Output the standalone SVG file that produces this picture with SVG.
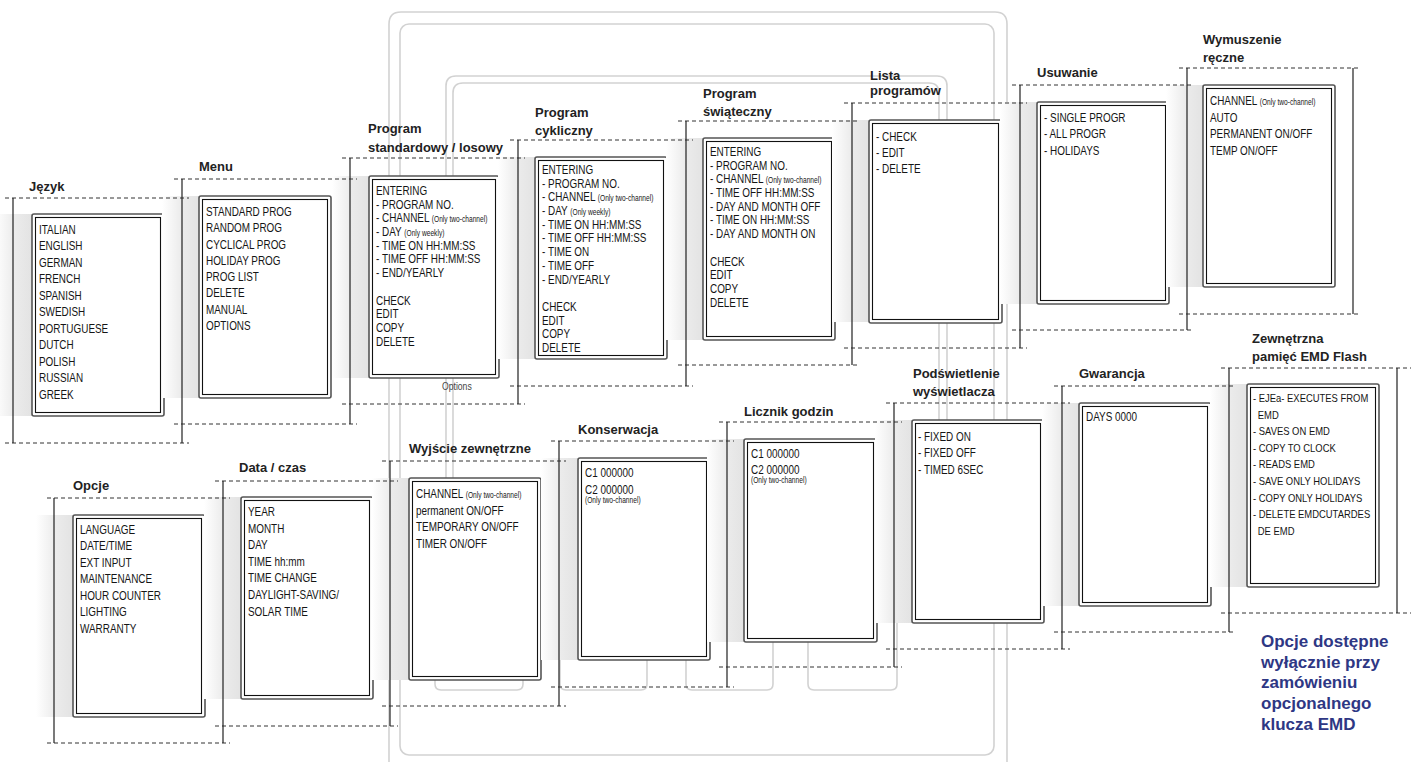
<svg xmlns="http://www.w3.org/2000/svg" width="1411" height="762" viewBox="0 0 1411 762">
<defs>
<linearGradient id="bandg" x1="0" y1="0" x2="1" y2="0">
<stop offset="0" stop-color="#ffffff"/>
<stop offset="0.5" stop-color="#ececec"/>
<stop offset="1" stop-color="#e3e3e3"/>
</linearGradient>
<style>
.c{fill:none;stroke:#d2d2d2;stroke-width:1.6}
.band{fill:url(#bandg)}
.bo{fill:#fff;stroke:#555;stroke-width:1.6}
.bi{fill:none;stroke:#111;stroke-width:1.1}
.t{font-family:"Liberation Sans",Arial,sans-serif;font-size:12.4px;fill:#151515}
.z{font-size:11.8px}
.s{font-size:8.3px}
.h{font-family:"Liberation Sans",Arial,sans-serif;font-weight:bold;font-size:13px;fill:#222}
.d{stroke:#333;stroke-width:1;stroke-dasharray:4 3;fill:none}
.v{stroke:#222;stroke-width:1.2;fill:none}
.blue{font-family:"Liberation Sans",Arial,sans-serif;font-weight:bold;font-size:17px;fill:#2e3784}
.opt{font-family:"Liberation Sans",Arial,sans-serif;font-size:10.8px;fill:#444}
</style>
</defs>
<rect width="1411" height="762" fill="#fff"/>

<g id="connectors">
<path class="c" d="M389 770V24Q389 12 401 12H995Q1007 12 1007 24V770"/>
<rect class="c" x="400" y="24" width="594" height="731" rx="9"/>
<path class="c" d="M446 500V86Q446 76 456 76H937Q947 76 947 86V440"/>
<path class="c" d="M453 500V93Q453 83 463 83H929Q939 83 939 93V440"/>
<path class="c" d="M435 600V684Q435 690 441 690H517Q523 690 523 684V600"/>
<path class="c" d="M560 600V684Q560 690 566 690H641Q647 690 647 684V600"/>
<path class="c" d="M686 600V684Q686 690 692 690H767Q773 690 773 684V600"/>
<path class="c" d="M808 600V684Q808 690 814 690H891Q897 690 897 684V600"/>
</g>

<g id="jezyk">
<rect class="band" x="-5" y="214" width="37" height="202"/>
<rect class="bo" x="32" y="214" width="132" height="202" rx="2"/>
<rect class="bi" x="35.5" y="217.5" width="125" height="195"/>
<text class="h" x="29" y="191">Język</text>
<g transform="translate(39 0) scale(0.8 1)"><text class="t"><tspan x="0" y="234">ITALIAN</tspan><tspan x="0" dy="16.5">ENGLISH</tspan><tspan x="0" dy="16.5">GERMAN</tspan><tspan x="0" dy="16.5">FRENCH</tspan><tspan x="0" dy="16.5">SPANISH</tspan><tspan x="0" dy="16.5">SWEDISH</tspan><tspan x="0" dy="16.5">PORTUGUESE</tspan><tspan x="0" dy="16.5">DUTCH</tspan><tspan x="0" dy="16.5">POLISH</tspan><tspan x="0" dy="16.5">RUSSIAN</tspan><tspan x="0" dy="16.5">GREEK</tspan></text></g>
</g>

<g id="menu">
<rect class="band" x="162" y="196" width="37" height="202"/>
<rect class="bo" x="199" y="196" width="132" height="202" rx="2"/>
<rect class="bi" x="202.5" y="199.5" width="125" height="195"/>
<text class="h" x="199" y="171">Menu</text>
<g transform="translate(206 0) scale(0.8 1)"><text class="t"><tspan x="0" y="216">STANDARD PROG</tspan><tspan x="0" dy="16.3">RANDOM PROG</tspan><tspan x="0" dy="16.3">CYCLICAL PROG</tspan><tspan x="0" dy="16.3">HOLIDAY PROG</tspan><tspan x="0" dy="16.3">PROG LIST</tspan><tspan x="0" dy="16.3">DELETE</tspan><tspan x="0" dy="16.3">MANUAL</tspan><tspan x="0" dy="16.3">OPTIONS</tspan></text></g>
</g>

<g id="program-standardowy">
<rect class="band" x="332" y="176" width="37" height="202"/>
<rect class="bo" x="369" y="176" width="130" height="202" rx="2"/>
<rect class="bi" x="372.5" y="179.5" width="123" height="195"/>
<text class="h"><tspan x="368" y="133">Program</tspan><tspan x="368" y="151.5">standardowy / losowy</tspan></text>
<g transform="translate(376 0) scale(0.8 1)"><text class="t"><tspan x="0" y="195">ENTERING</tspan><tspan x="0" dy="13.7">- PROGRAM NO.</tspan><tspan x="0" dy="13.7">- CHANNEL <tspan class="s">(Only two-channel)</tspan></tspan><tspan x="0" dy="13.7">- DAY <tspan class="s">(Only weekly)</tspan></tspan><tspan x="0" dy="13.7">- TIME ON HH:MM:SS</tspan><tspan x="0" dy="13.7">- TIME OFF HH:MM:SS</tspan><tspan x="0" dy="13.7">- END/YEARLY</tspan><tspan x="0" dy="27.4">CHECK</tspan><tspan x="0" dy="13.7">EDIT</tspan><tspan x="0" dy="13.7">COPY</tspan><tspan x="0" dy="13.7">DELETE</tspan></text></g>
<g transform="translate(442 0) scale(0.8 1)"><text class="opt" x="0" y="390">Options</text></g>
</g>

<g id="program-cykliczny">
<rect class="band" x="498" y="157" width="37" height="202"/>
<rect class="bo" x="535" y="157" width="132" height="202" rx="2"/>
<rect class="bi" x="538.5" y="160.5" width="125" height="195"/>
<text class="h"><tspan x="535" y="116.5">Program</tspan><tspan x="535" y="134.5">cykliczny</tspan></text>
<g transform="translate(542 0) scale(0.8 1)"><text class="t"><tspan x="0" y="174">ENTERING</tspan><tspan x="0" dy="13.7">- PROGRAM NO.</tspan><tspan x="0" dy="13.7">- CHANNEL <tspan class="s">(Only two-channel)</tspan></tspan><tspan x="0" dy="13.7">- DAY <tspan class="s">(Only weekly)</tspan></tspan><tspan x="0" dy="13.7">- TIME ON HH:MM:SS</tspan><tspan x="0" dy="13.7">- TIME OFF HH:MM:SS</tspan><tspan x="0" dy="13.7">- TIME ON</tspan><tspan x="0" dy="13.7">- TIME OFF</tspan><tspan x="0" dy="13.7">- END/YEARLY</tspan><tspan x="0" dy="27.4">CHECK</tspan><tspan x="0" dy="13.7">EDIT</tspan><tspan x="0" dy="13.7">COPY</tspan><tspan x="0" dy="13.7">DELETE</tspan></text></g>
</g>

<g id="program-swiateczny">
<rect class="band" x="666" y="138" width="37" height="202"/>
<rect class="bo" x="703" y="138" width="132" height="202" rx="2"/>
<rect class="bi" x="706.5" y="141.5" width="125" height="195"/>
<text class="h"><tspan x="703" y="98">Program</tspan><tspan x="703" y="116">świąteczny</tspan></text>
<g transform="translate(710 0) scale(0.8 1)"><text class="t"><tspan x="0" y="156">ENTERING</tspan><tspan x="0" dy="13.7">- PROGRAM NO.</tspan><tspan x="0" dy="13.7">- CHANNEL <tspan class="s">(Only two-channel)</tspan></tspan><tspan x="0" dy="13.7">- TIME OFF HH:MM:SS</tspan><tspan x="0" dy="13.7">- DAY AND MONTH OFF</tspan><tspan x="0" dy="13.7">- TIME ON HH:MM:SS</tspan><tspan x="0" dy="13.7">- DAY AND MONTH ON</tspan><tspan x="0" dy="27.4">CHECK</tspan><tspan x="0" dy="13.7">EDIT</tspan><tspan x="0" dy="13.7">COPY</tspan><tspan x="0" dy="13.7">DELETE</tspan></text></g>
</g>

<g id="lista-programow">
<rect class="band" x="832" y="120" width="37" height="202"/>
<rect class="bo" x="869" y="120" width="133" height="203" rx="2"/>
<rect class="bi" x="872.5" y="123.5" width="126" height="196"/>
<text class="h"><tspan x="870" y="80">Lista</tspan><tspan x="870" y="95">programów</tspan></text>
<g transform="translate(876 0) scale(0.8 1)"><text class="t"><tspan x="0" y="141">- CHECK</tspan><tspan x="0" dy="16">- EDIT</tspan><tspan x="0" dy="16">- DELETE</tspan></text></g>
</g>

<g id="usuwanie">
<rect class="band" x="1000" y="102" width="37" height="202"/>
<rect class="bo" x="1037" y="102" width="132" height="202" rx="2"/>
<rect class="bi" x="1040.5" y="105.5" width="125" height="195"/>
<text class="h" x="1037" y="77">Usuwanie</text>
<g transform="translate(1044 0) scale(0.8 1)"><text class="t"><tspan x="0" y="122">- SINGLE PROGR</tspan><tspan x="0" dy="16.3">- ALL PROGR</tspan><tspan x="0" dy="16.3">- HOLIDAYS</tspan></text></g>
</g>

<g id="wymuszenie-reczne">
<rect class="band" x="1166" y="85" width="37" height="202"/>
<rect class="bo" x="1203" y="85" width="132" height="202" rx="2"/>
<rect class="bi" x="1206.5" y="88.5" width="125" height="195"/>
<text class="h"><tspan x="1203" y="44">Wymuszenie</tspan><tspan x="1203" y="62">ręczne</tspan></text>
<g transform="translate(1210 0) scale(0.8 1)"><text class="t"><tspan x="0" y="105">CHANNEL <tspan class="s">(Only two-channel)</tspan></tspan><tspan x="0" dy="16.6">AUTO</tspan><tspan x="0" dy="16.6">PERMANENT ON/OFF</tspan><tspan x="0" dy="16.6">TEMP ON/OFF</tspan></text></g>
</g>

<g id="opcje">
<rect class="band" x="36" y="515" width="37" height="202"/>
<rect class="bo" x="73" y="515" width="132" height="202" rx="2"/>
<rect class="bi" x="76.5" y="518.5" width="125" height="195"/>
<text class="h" x="73" y="490">Opcje</text>
<g transform="translate(80 0) scale(0.8 1)"><text class="t"><tspan x="0" y="534">LANGUAGE</tspan><tspan x="0" dy="16.5">DATE/TIME</tspan><tspan x="0" dy="16.5">EXT INPUT</tspan><tspan x="0" dy="16.5">MAINTENANCE</tspan><tspan x="0" dy="16.5">HOUR COUNTER</tspan><tspan x="0" dy="16.5">LIGHTING</tspan><tspan x="0" dy="16.5">WARRANTY</tspan></text></g>
</g>

<g id="data-czas">
<rect class="band" x="204" y="497" width="37" height="202"/>
<rect class="bo" x="241" y="497" width="132" height="202" rx="2"/>
<rect class="bi" x="244.5" y="500.5" width="125" height="195"/>
<text class="h" x="239" y="472">Data / czas</text>
<g transform="translate(248 0) scale(0.8 1)"><text class="t"><tspan x="0" y="516">YEAR</tspan><tspan x="0" dy="16.6">MONTH</tspan><tspan x="0" dy="16.6">DAY</tspan><tspan x="0" dy="16.6">TIME hh:mm</tspan><tspan x="0" dy="16.6">TIME CHANGE</tspan><tspan x="0" dy="16.6">DAYLIGHT-SAVING/</tspan><tspan x="0" dy="16.6">SOLAR TIME</tspan></text></g>
</g>

<g id="wyjscie-zewnetrzne">
<rect class="band" x="372" y="478" width="37" height="202"/>
<rect class="bo" x="409" y="478" width="132" height="202" rx="2"/>
<rect class="bi" x="412.5" y="481.5" width="125" height="195"/>
<text class="h" x="409" y="453">Wyjście zewnętrzne</text>
<g transform="translate(416 0) scale(0.8 1)"><text class="t"><tspan x="0" y="498">CHANNEL <tspan class="s">(Only two-channel)</tspan></tspan><tspan x="0" dy="16.6">permanent ON/OFF</tspan><tspan x="0" dy="16.6">TEMPORARY ON/OFF</tspan><tspan x="0" dy="16.6">TIMER ON/OFF</tspan></text></g>
</g>

<g id="konserwacja">
<rect class="band" x="541" y="458" width="37" height="202"/>
<rect class="bo" x="578" y="458" width="132" height="202" rx="2"/>
<rect class="bi" x="581.5" y="461.5" width="125" height="195"/>
<text class="h" x="578" y="434">Konserwacja</text>
<g transform="translate(585 0) scale(0.8 1)"><text class="t"><tspan x="0" y="477">C1 000000</tspan><tspan x="0" dy="17">C2 000000</tspan><tspan x="0" dy="9.5" class="s">(Only two-channel)</tspan></text></g>
</g>

<g id="licznik-godzin">
<rect class="band" x="707" y="439" width="37" height="203"/>
<rect class="bo" x="744" y="439" width="133" height="203" rx="2"/>
<rect class="bi" x="747.5" y="442.5" width="126" height="196"/>
<text class="h" x="744" y="416">Licznik godzin</text>
<g transform="translate(751 0) scale(0.8 1)"><text class="t"><tspan x="0" y="458.5">C1 000000</tspan><tspan x="0" dy="16">C2 000000</tspan><tspan x="0" dy="9" class="s">(Only two-channel)</tspan></text></g>
</g>

<g id="podswietlenie">
<rect class="band" x="875" y="420" width="37" height="203"/>
<rect class="bo" x="912" y="420" width="132" height="203" rx="2"/>
<rect class="bi" x="915.5" y="423.5" width="125" height="196"/>
<text class="h"><tspan x="913" y="378">Podświetlenie</tspan><tspan x="913" y="396">wyświetlacza</tspan></text>
<g transform="translate(918 0) scale(0.8 1)"><text class="t"><tspan x="0" y="441">- FIXED ON</tspan><tspan x="0" dy="16.5">- FIXED OFF</tspan><tspan x="0" dy="16.5">- TIMED 6SEC</tspan></text></g>
</g>

<g id="gwarancja">
<rect class="band" x="1042" y="403" width="37" height="203"/>
<rect class="bo" x="1079" y="403" width="132" height="203" rx="2"/>
<rect class="bi" x="1082.5" y="406.5" width="125" height="196"/>
<text class="h" x="1079" y="378">Gwarancja</text>
<g transform="translate(1086 0) scale(0.8 1)"><text class="t" x="0" y="421">DAYS 0000</text></g>
</g>

<g id="zewnetrzna-pamiec">
<rect class="band" x="1210" y="384" width="37" height="203"/>
<rect class="bo" x="1247" y="384" width="132" height="203" rx="2"/>
<rect class="bi" x="1250.5" y="387.5" width="125" height="196"/>
<text class="h"><tspan x="1252" y="343">Zewnętrzna</tspan><tspan x="1252" y="361">pamięć EMD Flash</tspan></text>
<g transform="translate(1253 0) scale(0.8 1)"><text class="t z"><tspan x="0" y="402">- EJEa- EXECUTES FROM</tspan><tspan x="6" dy="16.6">EMD</tspan><tspan x="0" dy="16.6">- SAVES ON EMD</tspan><tspan x="0" dy="16.6">- COPY TO CLOCK</tspan><tspan x="0" dy="16.6">- READS EMD</tspan><tspan x="0" dy="16.6">- SAVE ONLY HOLIDAYS</tspan><tspan x="0" dy="16.6">- COPY ONLY HOLIDAYS</tspan><tspan x="0" dy="16.6">- DELETE EMDCUTARDES</tspan><tspan x="6" dy="16.6">DE EMD</tspan></text></g>
</g>

<g id="note">
<text class="blue"><tspan x="1261" y="647">Opcje dostępne</tspan><tspan x="1261" dy="20.7">wyłącznie przy</tspan><tspan x="1261" dy="20.7">zamówieniu</tspan><tspan x="1261" dy="20.7">opcjonalnego</tspan><tspan x="1261" dy="20.7">klucza EMD</tspan></text>
</g>

<g id="brackets">
<path class="d" d="M5 198H189M5 443H189M174 179H357M174 424H357M342 158H525M342 404H525M510 140H693M510 386H693M678 121H860M678 365H860M844 103H1027M844 348H1027M1012 85H1194M1012 330H1194M1179 68H1360M1179 314H1360"/>
<path class="v" d="M13 198V443M182 179V443M350 158V424M518 140V404M686 121V386M852 103V365M1020 85V348M1187 68V330M1353 68V314"/>
<path class="d" d="M47 498H230M47 743H230M215 481H398M215 726H398M382 461H566M382 706H566M551 441H734M551 687H734M719 422H902M719 667H902M886 403H1070M886 649H1070M1054 386H1236M1054 632H1236M1221 368H1411M1221 613H1411"/>
<path class="v" d="M54 498V743M223 481V743M390 461V726M559 441V706M727 422V687M894 403V667M1062 386V649M1229 368V632M1397 368V613"/>
</g>
</svg>
